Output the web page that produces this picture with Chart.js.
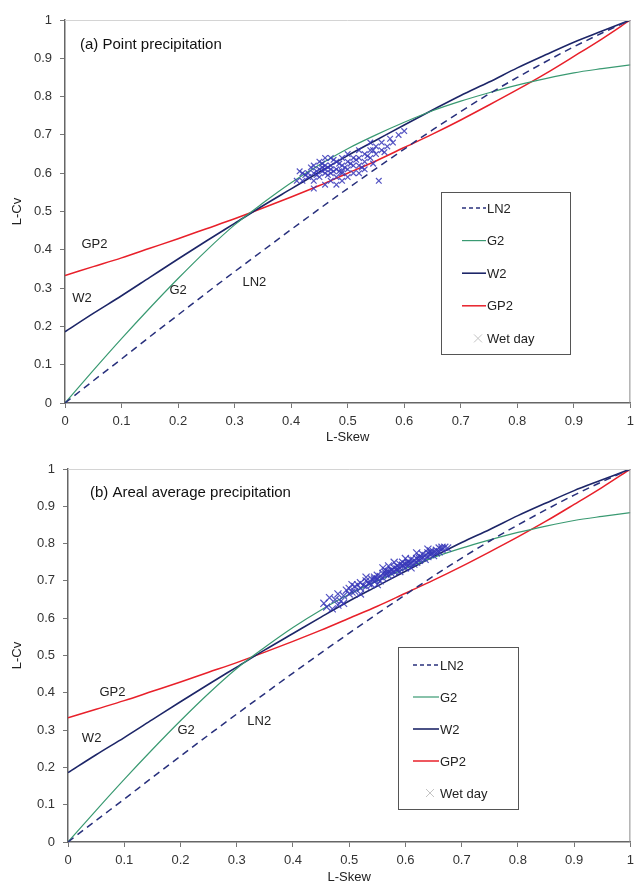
<!DOCTYPE html>
<html lang="en">
<head>
<meta charset="UTF-8" />
<script src="https://cdn.jsdelivr.net/npm/chart.js"></script>
<title>L-moment ratio diagram</title>
<style>
  body { margin: 0; background: #fff; }
  .panel { position: absolute; left: 0; width: 640px; }
</style>
</head>
<body>
<div class="panel" style="top:0;height:445px"><canvas id="pointChart" width="640" height="445"></canvas></div>
<div class="panel" style="top:443px;height:442px"><canvas id="arealChart" width="640" height="442"></canvas></div>

<script>
  // L-Skew grid the theoretical curves are read at
  const skewGrid = [0, 0.05, 0.1, 0.15, 0.2, 0.25, 0.3, 0.35, 0.4, 0.45, 0.5, 0.55, 0.6, 0.65, 0.7, 0.75, 0.8, 0.85, 0.9, 0.95, 1]
  const ln2 = [0, 0.058, 0.115, 0.173, 0.23, 0.287, 0.343, 0.398, 0.453, 0.507, 0.56, 0.612, 0.663, 0.713, 0.761, 0.807, 0.85, 0.891, 0.93, 0.966, 1]
  const g2 = [0, 0.085, 0.168, 0.248, 0.325, 0.398, 0.465, 0.522, 0.575, 0.622, 0.664, 0.7, 0.733, 0.763, 0.788, 0.81, 0.83, 0.847, 0.862, 0.873, 0.883]
  const w2 = [0.186, 0.234, 0.28, 0.328, 0.376, 0.423, 0.469, 0.515, 0.559, 0.603, 0.646, 0.686, 0.726, 0.765, 0.803, 0.838, 0.875, 0.909, 0.942, 0.971, 1]
  const gp2 = [0.333, 0.356, 0.379, 0.404, 0.429, 0.455, 0.481, 0.509, 0.538, 0.568, 0.6, 0.632, 0.667, 0.702, 0.739, 0.778, 0.818, 0.86, 0.905, 0.951, 1]

  // (a) point precipitation, wet day L-moment ratios
  const pointSkew = [0.44, 0.45, 0.46, 0.47, 0.48, 0.49, 0.50, 0.46, 0.47, 0.48,
    0.45, 0.44, 0.43, 0.42, 0.43, 0.41, 0.42, 0.44, 0.45, 0.46,
    0.47, 0.48, 0.49, 0.50, 0.51, 0.51, 0.52, 0.52, 0.53, 0.53,
    0.54, 0.54, 0.55, 0.55, 0.56, 0.56, 0.57, 0.58, 0.59, 0.60,
    0.555, 0.50, 0.49, 0.47, 0.46, 0.44, 0.48, 0.52, 0.53, 0.51,
    0.50, 0.49, 0.465, 0.475, 0.485, 0.455, 0.435, 0.445, 0.495, 0.505,
    0.515, 0.525, 0.545, 0.535, 0.565, 0.575, 0.455, 0.465, 0.475, 0.485,
    0.425, 0.415, 0.545, 0.52, 0.54, 0.445, 0.455, 0.47, 0.49, 0.46]
  const pointCv = [0.60, 0.61, 0.60, 0.62, 0.61, 0.62, 0.61, 0.62, 0.60, 0.63,
    0.59, 0.62, 0.60, 0.58, 0.59, 0.58, 0.60, 0.58, 0.63, 0.64,
    0.64, 0.59, 0.60, 0.63, 0.62, 0.60, 0.62, 0.64, 0.63, 0.65,
    0.64, 0.66, 0.65, 0.67, 0.66, 0.68, 0.67, 0.68, 0.70, 0.71,
    0.58, 0.59, 0.58, 0.58, 0.57, 0.56, 0.57, 0.60, 0.61, 0.64,
    0.65, 0.64, 0.615, 0.605, 0.625, 0.605, 0.615, 0.595, 0.615, 0.625,
    0.635, 0.615, 0.625, 0.645, 0.655, 0.69, 0.625, 0.595, 0.635, 0.605,
    0.595, 0.605, 0.66, 0.66, 0.68, 0.605, 0.615, 0.61, 0.605, 0.61]

  // (b) areal average precipitation
  const arealSkew = [0.455, 0.465, 0.47, 0.475, 0.48, 0.485, 0.49, 0.495, 0.50, 0.50,
    0.505, 0.51, 0.51, 0.515, 0.52, 0.52, 0.525, 0.53, 0.53, 0.535,
    0.54, 0.54, 0.545, 0.545, 0.55, 0.55, 0.555, 0.555, 0.56, 0.56,
    0.565, 0.565, 0.57, 0.57, 0.575, 0.575, 0.58, 0.58, 0.585, 0.585,
    0.59, 0.59, 0.595, 0.595, 0.60, 0.60, 0.605, 0.605, 0.61, 0.61,
    0.615, 0.615, 0.62, 0.62, 0.625, 0.625, 0.63, 0.63, 0.635, 0.635,
    0.64, 0.64, 0.645, 0.645, 0.65, 0.65, 0.655, 0.66, 0.66, 0.665,
    0.67, 0.675, 0.57, 0.58, 0.55, 0.53, 0.49, 0.60, 0.62, 0.64,
    0.52, 0.56, 0.48, 0.46, 0.505, 0.59, 0.61, 0.565, 0.585, 0.605,
    0.625, 0.645, 0.655, 0.665, 0.535, 0.545, 0.575, 0.595]
  const arealCv = [0.640, 0.655, 0.625, 0.650, 0.665, 0.645, 0.660, 0.675, 0.665, 0.680,
    0.670, 0.685, 0.672, 0.690, 0.680, 0.695, 0.688, 0.700, 0.685, 0.695,
    0.705, 0.690, 0.710, 0.700, 0.705, 0.715, 0.712, 0.700, 0.720, 0.708,
    0.718, 0.728, 0.715, 0.725, 0.730, 0.720, 0.735, 0.725, 0.740, 0.728,
    0.735, 0.745, 0.740, 0.750, 0.745, 0.735, 0.752, 0.742, 0.748, 0.758,
    0.755, 0.745, 0.760, 0.750, 0.765, 0.755, 0.762, 0.772, 0.768, 0.758,
    0.775, 0.765, 0.770, 0.780, 0.778, 0.768, 0.782, 0.778, 0.788, 0.785,
    0.790, 0.788, 0.740, 0.750, 0.690, 0.710, 0.640, 0.760, 0.775, 0.785,
    0.665, 0.735, 0.635, 0.630, 0.690, 0.725, 0.735, 0.722, 0.732, 0.748,
    0.760, 0.775, 0.775, 0.790, 0.692, 0.705, 0.728, 0.742]

  const FONT = '"Liberation Sans", Arial, sans-serif'
  const zip = (xs, ys) => xs.map((x, i) => ({ x, y: ys[i] }))
  const fmt = (v) => String(Math.round(v * 10) / 10)

  // frame, panel title, curve labels and the boxed legend
  const decorations = {
    id: 'decorations',
    afterDatasetsDraw(chart, args, opts) {
      const { ctx, chartArea: a, scales: { x, y } } = chart
      ctx.save()
      ctx.lineWidth = 1
      ctx.strokeStyle = '#d4d4d4'
      ctx.beginPath(); ctx.moveTo(a.left, a.top + 0.5); ctx.lineTo(a.right, a.top + 0.5); ctx.stroke()
      ctx.strokeStyle = '#8a8a8a'
      ctx.beginPath(); ctx.moveTo(a.right - 0.5, a.top); ctx.lineTo(a.right - 0.5, a.bottom); ctx.stroke()

      ctx.fillStyle = '#111'
      ctx.textBaseline = 'middle'
      ctx.textAlign = 'left'
      ctx.font = '15px ' + FONT
      ctx.fillText(opts.title, opts.titleX, opts.titleY)

      ctx.font = '13px ' + FONT
      ctx.textAlign = 'center'
      ctx.fillStyle = '#222'
      opts.labels.forEach((l) => ctx.fillText(l.text, x.getPixelForValue(l.x), y.getPixelForValue(l.y)))

      const L = opts.legend
      ctx.fillStyle = '#fff'
      ctx.fillRect(L.left, L.top, L.width, L.height)
      ctx.strokeStyle = '#555'
      ctx.strokeRect(L.left + 0.5, L.top + 0.5, L.width, L.height)
      ctx.textAlign = 'left'
      chart.data.datasets.forEach((ds, i) => {
        const yy = L.top + L.first + i * L.step
        if (ds.showLine) {
          ctx.strokeStyle = ds.borderColor
          ctx.lineWidth = ds.borderWidth
          ctx.setLineDash(ds.borderDash ? [4, 3] : [])
          ctx.beginPath(); ctx.moveTo(L.lineX, yy); ctx.lineTo(L.lineX + L.lineW, yy); ctx.stroke()
          ctx.setLineDash([])
        } else {
          const cx = L.lineX + L.lineW / 2 + 4
          ctx.strokeStyle = '#c4c4c4'
          ctx.lineWidth = 1
          ctx.beginPath()
          ctx.moveTo(cx - 4, yy - 4); ctx.lineTo(cx + 4, yy + 4)
          ctx.moveTo(cx - 4, yy + 4); ctx.lineTo(cx + 4, yy - 4)
          ctx.stroke()
        }
        ctx.fillStyle = '#222'
        ctx.fillText(ds.label, L.textX, yy + 1)
      })
      ctx.restore()
    },
  }

  const makeChart = (id, skew, cv, cfg) => {
    const axisFont = { family: FONT, size: 13 }
    const curve = (label, data, color, width, dash) => ({
      label,
      data: zip(skewGrid, data),
      showLine: true,
      borderColor: color,
      borderWidth: width,
      borderDash: dash,
      pointRadius: 0,
      cubicInterpolationMode: 'monotone',
      order: 1,
    })
    new Chart(document.getElementById(id).getContext('2d'), {
      type: 'scatter',
      data: {
        datasets: [
          curve('LN2', ln2, '#28307c', 1.5, [7, 5]),
          curve('G2', g2, '#3a9a72', 1.2),
          curve('W2', w2, '#1d2668', 1.6),
          curve('GP2', gp2, '#e8202a', 1.5),
          {
            label: 'Wet day',
            data: zip(skew, cv),
            pointStyle: 'crossRot',
            pointRadius: cfg.markerSize,
            borderWidth: 1.2,
            borderColor: 'rgba(55, 55, 185, 0.85)',
            order: 0,
          },
        ],
      },
      options: {
        responsive: false,
        animation: false,
        layout: { padding: { top: cfg.padTop, right: 3, left: 0, bottom: 0 } },
        plugins: {
          legend: { display: false },
          tooltip: { enabled: false },
          decorations: cfg.deco,
        },
        scales: {
          x: {
            type: 'linear', min: 0, max: 1,
            ticks: { stepSize: 0.1, color: '#333', font: axisFont, padding: 6, maxRotation: 0, callback: fmt },
            grid: { drawOnChartArea: false, tickLength: 5, color: '#777' },
            border: { color: '#666', width: 1.5 },
            title: { display: true, text: 'L-Skew', color: '#222', font: axisFont, padding: 0 },
            afterFit: (s) => { s.height = cfg.xAxisHeight },
          },
          y: {
            type: 'linear', min: 0, max: 1,
            ticks: { stepSize: 0.1, color: '#333', font: axisFont, padding: 8, callback: fmt },
            grid: { drawOnChartArea: false, tickLength: 5, color: '#777' },
            border: { color: '#666', width: 1.5 },
            title: { display: true, text: 'L-Cv', color: '#222', font: axisFont, padding: { top: 10 } },
            afterFit: (s) => { s.width = cfg.yAxisWidth },
          },
        },
      },
      plugins: [decorations],
    })
  }

  makeChart('pointChart', pointSkew, pointCv, {
    padTop: 20, xAxisHeight: 42, yAxisWidth: 65, markerSize: 4,
    deco: {
      title: '(a) Point precipitation', titleX: 80, titleY: 45,
      labels: [
        { text: 'GP2', x: 0.052, y: 0.415 },
        { text: 'W2', x: 0.03, y: 0.274 },
        { text: 'G2', x: 0.2, y: 0.295 },
        { text: 'LN2', x: 0.335, y: 0.316 },
      ],
      legend: { left: 441, top: 192, width: 129, height: 162, first: 16, step: 32.6, lineX: 462, lineW: 24, textX: 487 },
    },
  })

  makeChart('arealChart', arealSkew, arealCv, {
    padTop: 26, xAxisHeight: 43, yAxisWidth: 68, markerSize: 5,
    deco: {
      title: '(b) Areal average precipitation', titleX: 90, titleY: 50,
      labels: [
        { text: 'GP2', x: 0.079, y: 0.402 },
        { text: 'W2', x: 0.042, y: 0.279 },
        { text: 'G2', x: 0.21, y: 0.3 },
        { text: 'LN2', x: 0.34, y: 0.324 },
      ],
      legend: { left: 398, top: 204, width: 120, height: 162, first: 18, step: 32, lineX: 413, lineW: 26, textX: 440 },
    },
  })
</script>
</body>
</html>
